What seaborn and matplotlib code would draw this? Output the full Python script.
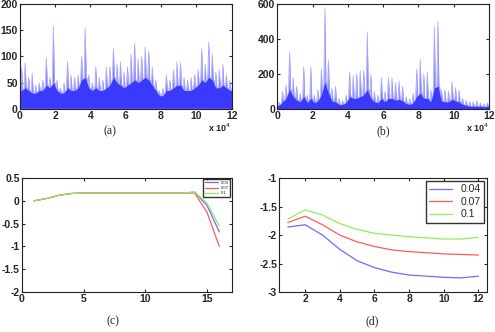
import numpy as np
import pandas as pd
import seaborn as sns
import matplotlib.pyplot as plt

# (a) / (b): peak height and dense-body level per 0.2e4-sample bin
peaks_a = [78, 88, 60, 68, 45, 50, 55, 98, 60, 157,
           55, 40, 50, 90, 65, 60, 65, 100, 155, 65,
           50, 80, 60, 55, 80, 80, 115, 85, 90, 70,
           80, 105, 125, 95, 100, 118, 110, 80, 55, 35,
           40, 65, 55, 75, 90, 88, 60, 55, 60, 65,
           75, 115, 85, 128, 105, 70, 75, 85, 65, 55]
body_a = [35, 40, 35, 30, 30, 35, 35, 45, 40, 50,
          35, 30, 30, 40, 35, 35, 40, 55, 60, 40,
          35, 40, 35, 35, 40, 45, 60, 50, 45, 40,
          45, 50, 55, 50, 55, 60, 55, 45, 35, 25,
          25, 35, 35, 40, 45, 45, 35, 35, 35, 40,
          45, 55, 50, 60, 55, 40, 40, 45, 40, 35]

peaks_b = [40, 100, 138, 324, 180, 130, 90, 239, 80, 240,
           80, 110, 230, 580, 280, 120, 130, 60, 50, 80,
           210, 190, 200, 220, 220, 440, 200, 100, 80, 180,
           100, 180, 180, 150, 160, 130, 70, 60, 90, 230,
           285, 200, 210, 110, 470, 500, 110, 110, 100, 155,
           120, 110, 60, 50, 40, 40, 45, 35, 30, 35]
body_b = [20, 40, 60, 110, 70, 50, 40, 70, 35, 60,
          35, 45, 80, 150, 90, 45, 40, 25, 25, 35,
          70, 60, 60, 70, 80, 110, 60, 40, 35, 60,
          40, 60, 60, 50, 55, 45, 30, 25, 35, 70,
          90, 60, 60, 40, 120, 130, 45, 40, 40, 55,
          45, 40, 25, 20, 15, 15, 15, 15, 12, 15]

# (c)
steps_c = list(range(1, 17))
c_004 = [0, 0.05, 0.12, 0.16, 0.17, 0.17, 0.17, 0.17, 0.17, 0.17, 0.17, 0.17, 0.17, 0.19, -0.1, -0.68]
c_007 = [0, 0.05, 0.12, 0.16, 0.17, 0.17, 0.17, 0.17, 0.17, 0.17, 0.17, 0.17, 0.17, 0.17, -0.25, -1.0]
c_01 = [0, 0.05, 0.12, 0.16, 0.17, 0.17, 0.17, 0.17, 0.17, 0.17, 0.17, 0.17, 0.17, 0.19, -0.05, -0.55]

# (d)
steps_d = list(range(1, 13))
d_004 = [-1.86, -1.82, -2.0, -2.25, -2.45, -2.57, -2.65, -2.70, -2.72, -2.74, -2.75, -2.72]
d_007 = [-1.78, -1.67, -1.82, -2.0, -2.12, -2.2, -2.26, -2.29, -2.31, -2.33, -2.34, -2.35]
d_01 = [-1.72, -1.56, -1.65, -1.8, -1.9, -1.97, -2.0, -2.03, -2.05, -2.07, -2.07, -2.04]

labels = ["0.04", "0.07", "0.1"]
colors = ["#6b6bff", "#ff5a5a", "#8fef5f"]

sns.set_style("ticks")
plt.rcParams["font.family"] = ["Liberation Sans", "DejaVu Sans"]
plt.rcParams.update({"xtick.direction": "in", "ytick.direction": "in",
                     "xtick.major.size": 2.5, "ytick.major.size": 2.5,
                     "axes.linewidth": 0.8})

fig = plt.figure(figsize=(4.95, 3.32), dpi=100)
ax_a = fig.add_axes([0.040, 0.672, 0.428, 0.316])
ax_b = fig.add_axes([0.560, 0.672, 0.428, 0.316])
ax_c = fig.add_axes([0.044, 0.120, 0.424, 0.344])
ax_d = fig.add_axes([0.564, 0.120, 0.420, 0.344])


def spiky(ax, peaks, body, ymax, yticks):
    n = len(peaks)
    w = 12 / n
    centers = [(i + 0.5) * w for i in range(n)]
    # thin spikes rising to each bin's peak
    xs, ys = [], []
    for i, c in enumerate(centers):
        xs += [c - 0.3 * w, c, c + 0.3 * w, c + 0.5 * w]
        ys += [body[i], peaks[i], body[i], body[i]]
    df = pd.DataFrame({"x": xs, "y": ys})
    ax.fill_between(df["x"], 0, df["y"], color="#8080ff", lw=0, zorder=1)
    sns.lineplot(data=df, x="x", y="y", ax=ax, color="#a5a5ff", lw=0.5, sort=False, zorder=1)
    # dense body on top
    bx = [0] + centers + [12]
    by = [body[0]] + body + [body[-1]]
    ax.fill_between(bx, 1.5, by, color="#3a3aff", lw=0, zorder=2)
    ax.set_xlim(0, 12)
    ax.set_ylim(0, ymax)
    ax.set_xticks(range(0, 13, 2))
    ax.set_yticks(yticks)
    ax.set_xlabel("")
    ax.set_ylabel("")
    ax.text(1.0, -0.12, r"x 10$^4$", transform=ax.transAxes, ha="right", va="top",
            fontsize=6.5, fontweight="bold")


spiky(ax_a, peaks_a, body_a, 200, [0, 50, 100, 150, 200])
spiky(ax_b, peaks_b, body_b, 600, [0, 200, 400, 600])

for vals, lab, col in zip([c_004, c_007, c_01], labels, colors):
    sns.lineplot(x=steps_c, y=vals, ax=ax_c, color=col, lw=0.9, label=lab)
ax_c.set_xlim(0, 17)
ax_c.set_ylim(-2, 0.5)
ax_c.set_xticks([0, 5, 10, 15])
ax_c.set_yticks([-2, -1.5, -1, -0.5, 0, 0.5])
ax_c.set_yticklabels(["-2", "-1.5", "-1", "-0.5", "0", "0.5"])
ax_c.legend(loc="upper right", fontsize=3, frameon=True, fancybox=False, edgecolor="black",
            handlelength=3, borderpad=0.4, labelspacing=0.3, borderaxespad=0.3)

for vals, lab, col in zip([d_004, d_007, d_01], labels, colors):
    sns.lineplot(x=steps_d, y=vals, ax=ax_d, color=col, lw=0.9, label=lab)
ax_d.set_xlim(0.5, 12.5)
ax_d.set_ylim(-3, -1)
ax_d.set_xticks(range(2, 13, 2))
ax_d.set_yticks([-3, -2.5, -2, -1.5, -1])
ax_d.set_yticklabels(["-3", "-2.5", "-2", "-1.5", "-1"])
ax_d.legend(loc="upper right", fontsize=7.5, frameon=True, fancybox=False, edgecolor="black",
            handlelength=2.2, borderpad=0.3, labelspacing=0.25, borderaxespad=0.3)

for ax in [ax_a, ax_b, ax_c, ax_d]:
    ax.tick_params(top=True, right=True, labelsize=7.5, pad=1.5)
    for lbl in ax.get_xticklabels() + ax.get_yticklabels():
        lbl.set_fontweight("bold")
    for s in ax.spines.values():
        s.set_visible(True)
        s.set_color("#222222")

cap = dict(ha="center", va="center", fontsize=8.5, family=["Liberation Serif", "DejaVu Serif"])
fig.text(110 / 495, 1 - 131 / 332, "(a)", **cap)
fig.text(383 / 495, 1 - 131 / 332, "(b)", **cap)
fig.text(113 / 495, 1 - 321 / 332, "(c)", **cap)
fig.text(372 / 495, 1 - 321 / 332, "(d)", **cap)

fig.savefig("out.png", dpi=100)
